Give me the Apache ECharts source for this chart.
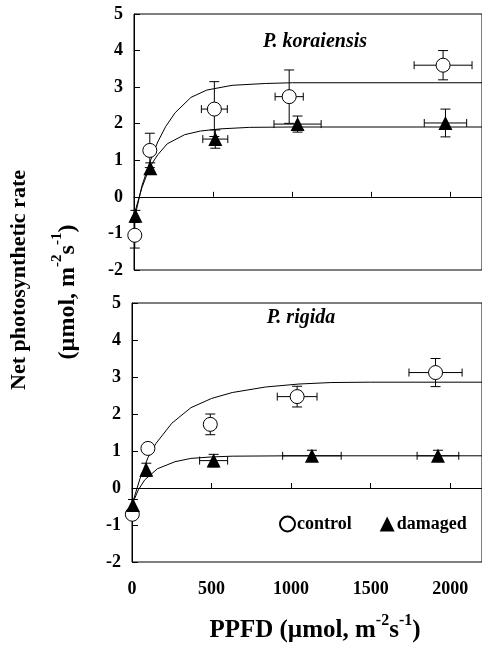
<!DOCTYPE html>
<html>
<head>
<meta charset="utf-8">
<script src="https://cdn.jsdelivr.net/npm/echarts@6/dist/echarts.min.js"></script>
<style>html,body{margin:0;padding:0;background:#fff}#c{width:482px;height:663px}</style>
</head>
<body>
<div id="c"></div>
<script>
// ---- data: P. koraiensis (top) ----
const kCtrlX = [5, 100, 508, 981, 1954];
const kCtrlY = [-1.05, 1.27, 2.40, 2.74, 3.60];
const kCtrlXErr = [0, 0, 82, 89, 183];
const kCtrlYErr = [0.35, 0.47, 0.75, 0.73, 0.40];
const kDmgX = [9, 103, 514, 1034, 1969];
const kDmgY = [-0.52, 0.78, 1.58, 1.99, 2.02];
const kDmgXErr = [0, 0, 79, 149, 134];
const kDmgYErr = [0.15, 0.15, 0.25, 0.22, 0.38];
const kCtrlFitX = [0, 50, 100, 150, 200, 260, 360, 460, 620, 830, 1000, 2200];
const kCtrlFitY = [-0.65, 0.3, 0.95, 1.5, 1.92, 2.3, 2.72, 2.92, 3.05, 3.10, 3.12, 3.12];
const kDmgFitX = [0, 50, 100, 150, 210, 320, 420, 550, 730, 1000, 2200];
const kDmgFitY = [-0.5, 0.25, 0.82, 1.15, 1.45, 1.70, 1.80, 1.86, 1.90, 1.91, 1.91];
// ---- data: P. rigida (bottom) ----
const rCtrlX = [2, 100, 492, 1038, 1908];
const rCtrlY = [-0.71, 1.07, 1.72, 2.47, 3.12];
const rCtrlXErr = [0, 0, 35, 125, 167];
const rCtrlYErr = [0.1, 0.05, 0.28, 0.28, 0.38];
const rDmgX = [6, 90, 513, 1131, 1923];
const rDmgY = [-0.46, 0.49, 0.74, 0.87, 0.87];
const rDmgXErr = [0, 0, 88, 184, 131];
const rDmgYErr = [0.15, 0.18, 0.17, 0.15, 0.15];
const rCtrlFitX = [0, 50, 100, 150, 250, 370, 500, 630, 840, 1050, 1250, 1500, 2200];
const rCtrlFitY = [-0.45, 0.25, 0.82, 1.2, 1.75, 2.17, 2.42, 2.58, 2.73, 2.81, 2.85, 2.86, 2.86];
const rDmgFitX = [0, 40, 80, 160, 270, 370, 500, 630, 1000, 2200];
const rDmgFitY = [-0.45, -0.05, 0.22, 0.52, 0.71, 0.80, 0.84, 0.86, 0.87, 0.87];
// ---- axes / labels ----
const xTicks = [0, 500, 1000, 1500, 2000];
const yTicks = [-2, -1, 0, 1, 2, 3, 4, 5];
const seriesNames = ['control', 'damaged'];
const panelTitles = ['P. koraiensis', 'P. rigida'];

const FONT = "'Liberation Serif', 'Times New Roman', serif";
const zip = (a, b) => a.map((v, i) => [v, b[i]]);
const zip4 = (a, b, c, d) => a.map((v, i) => [v, b[i], c[i], d[i]]);

function errRender(params, api) {
  const x = api.value(0), y = api.value(1), xe = api.value(2), ye = api.value(3);
  const st = { stroke: '#000', lineWidth: 1, fill: null };
  const ch = [];
  if (ye > 0) {
    const t = api.coord([x, y + ye]), b = api.coord([x, y - ye]);
    ch.push({ type: 'line', shape: { x1: t[0], y1: t[1], x2: b[0], y2: b[1] }, style: st });
    ch.push({ type: 'line', shape: { x1: t[0] - 5, y1: t[1], x2: t[0] + 5, y2: t[1] }, style: st });
    ch.push({ type: 'line', shape: { x1: b[0] - 5, y1: b[1], x2: b[0] + 5, y2: b[1] }, style: st });
  }
  if (xe > 0) {
    const l = api.coord([x - xe, y]), r = api.coord([x + xe, y]);
    ch.push({ type: 'line', shape: { x1: l[0], y1: l[1], x2: r[0], y2: r[1] }, style: st });
    ch.push({ type: 'line', shape: { x1: l[0], y1: l[1] - 4, x2: l[0], y2: l[1] + 4 }, style: st });
    ch.push({ type: 'line', shape: { x1: r[0], y1: r[1] - 4, x2: r[0], y2: r[1] + 4 }, style: st });
  }
  return { type: 'group', children: ch };
}

function xAxisCfg(gi, showLabels) {
  return {
    type: 'value', gridIndex: gi, min: xTicks[0], max: 2200, interval: xTicks[1] - xTicks[0],
    axisLine: { show: true, lineStyle: { color: '#000', width: 1 } },
    axisTick: { show: true, inside: true, length: 5, lineStyle: { color: '#000' } },
    splitLine: { show: false },
    axisLabel: { show: showLabels, showMaxLabel: false, margin: 18, color: '#000',
      fontFamily: FONT, fontWeight: 'bold', fontSize: 18, formatter: v => String(v) }
  };
}
function yAxisCfg(gi) {
  return {
    type: 'value', gridIndex: gi, min: yTicks[0], max: yTicks[yTicks.length - 1], interval: 1,
    axisLine: { show: true, onZero: false, lineStyle: { color: '#000', width: 1 } },
    axisTick: { show: true, inside: true, length: 6, lineStyle: { color: '#000' } },
    splitLine: { show: false },
    axisLabel: { margin: 11, color: '#000', fontFamily: FONT, fontWeight: 'bold', fontSize: 18, formatter: v => String(v) }
  };
}

function panelSeries(gi, d) {
  const base = { xAxisIndex: gi, yAxisIndex: gi };
  return [
    Object.assign({}, base, {
      type: 'line', data: zip(d.cfx, d.cfy), showSymbol: false, smooth: false,
      lineStyle: { color: '#000', width: 1 }, silent: true, z: 2,
      markLine: { silent: true, symbol: 'none', label: { show: false },
        lineStyle: { color: '#000', width: 1, type: 'solid' }, data: [{ yAxis: 0 }] }
    }),
    Object.assign({}, base, {
      type: 'line', data: zip(d.dfx, d.dfy), showSymbol: false, smooth: false,
      lineStyle: { color: '#000', width: 1 }, silent: true, z: 2
    }),
    Object.assign({}, base, {
      type: 'custom', renderItem: errRender, data: zip4(d.cx, d.cy, d.cxe, d.cye),
      encode: { x: 0, y: 1 }, z: 3, silent: true
    }),
    Object.assign({}, base, {
      type: 'custom', renderItem: errRender, data: zip4(d.dx, d.dy, d.dxe, d.dye),
      encode: { x: 0, y: 1 }, z: 3, silent: true
    }),
    Object.assign({}, base, {
      name: seriesNames[0], type: 'scatter', data: zip(d.cx, d.cy), symbol: 'circle', symbolSize: 14,
      itemStyle: { color: '#fff', borderColor: '#000', borderWidth: 1, opacity: 1 }, z: 5
    }),
    Object.assign({}, base, {
      name: seriesNames[1], type: 'scatter', data: zip(d.dx, d.dy), symbol: 'triangle', symbolSize: 14,
      itemStyle: { color: '#000', opacity: 1 }, z: 6
    })
  ];
}

const supRich = (size, supSize) => ({
  n: { fill: '#000', fontFamily: FONT, fontWeight: 'bold', fontSize: size, lineHeight: size + 6, verticalAlign: 'bottom' },
  s: { fill: '#000', fontFamily: FONT, fontWeight: 'bold', fontSize: supSize, lineHeight: size + 6, verticalAlign: 'top' }
});

const chart = echarts.init(document.getElementById('c'), null, { renderer: 'canvas' });
const option = {
  backgroundColor: '#fff',
  animation: false,
  grid: [
    { left: 134, top: 14, width: 350, height: 256, show: true, borderColor: '#000', borderWidth: 1, backgroundColor: 'transparent' },
    { left: 132, top: 303, width: 352, height: 259, show: true, borderColor: '#000', borderWidth: 1, backgroundColor: 'transparent' }
  ],
  xAxis: [xAxisCfg(0, false), xAxisCfg(1, true)],
  yAxis: [yAxisCfg(0), yAxisCfg(1)],
  legend: {
    data: seriesNames, left: 279, top: 515, orient: 'horizontal',
    itemWidth: 15, itemHeight: 15, itemGap: 28, padding: 0,
    textStyle: { color: '#000', fontFamily: FONT, fontWeight: 'bold', fontSize: 18, padding: [0, 0, 0, -3] },
    selectedMode: false
  },
  series: [].concat(
    panelSeries(0, { cx: kCtrlX, cy: kCtrlY, cxe: kCtrlXErr, cye: kCtrlYErr,
      dx: kDmgX, dy: kDmgY, dxe: kDmgXErr, dye: kDmgYErr,
      cfx: kCtrlFitX, cfy: kCtrlFitY, dfx: kDmgFitX, dfy: kDmgFitY }),
    panelSeries(1, { cx: rCtrlX, cy: rCtrlY, cxe: rCtrlXErr, cye: rCtrlYErr,
      dx: rDmgX, dy: rDmgY, dxe: rDmgXErr, dye: rDmgYErr,
      cfx: rCtrlFitX, cfy: rCtrlFitY, dfx: rDmgFitX, dfy: rDmgFitY })
  ),
  graphic: [
    { type: 'text', x: 315, y: 42, style: { text: panelTitles[0], fill: '#000', font: "italic bold 20px " + FONT, align: 'center', verticalAlign: 'middle' } },
    { type: 'text', x: 301, y: 318, style: { text: panelTitles[1], fill: '#000', font: "italic bold 20px " + FONT, align: 'center', verticalAlign: 'middle' } },
    { type: 'text', x: 19, y: 280, rotation: Math.PI / 2,
      style: { text: 'Net photosynthetic rate', fill: '#000', font: "bold 22px " + FONT, align: 'center', verticalAlign: 'middle' } },
    { type: 'text', x: 65, y: 292, rotation: Math.PI / 2,
      style: { text: '{n|(µmol, m}{s|-2}{n|s}{s|-1}{n|)}', align: 'center', verticalAlign: 'middle', rich: supRich(24, 15) } },
    { type: 'text', x: 315, y: 628,
      style: { text: '{n|PPFD (µmol, m}{s|-2}{n|s}{s|-1}{n|)}', align: 'center', verticalAlign: 'middle', rich: supRich(25, 16) } }
  ]
};
chart.setOption(option);
</script>
</body>
</html>
